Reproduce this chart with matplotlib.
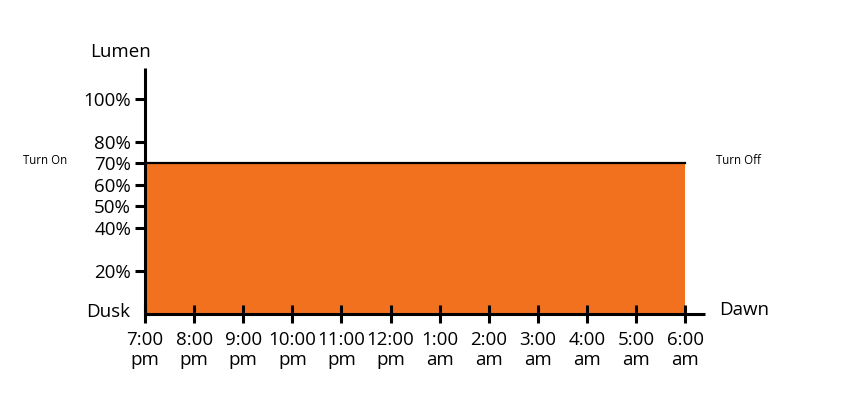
import numpy as np
import matplotlib.pyplot as plt

plt.rcParams['font.family'] = ['Open Sans', 'DejaVu Sans']

# data
hours = ['7:00\npm', '8:00\npm', '9:00\npm', '10:00\npm', '11:00\npm', '12:00\npm',
         '1:00\nam', '2:00\nam', '3:00\nam', '4:00\nam', '5:00\nam', '6:00\nam']
lumen_ticks = [20, 40, 50, 60, 70, 80, 100]
lumen_level = 70

x = np.arange(len(hours))

fig = plt.figure(figsize=(8.48, 3.99), dpi=100)
ax = fig.add_axes([145 / 848, 1 - 314 / 399, (705 - 145) / 848, (314 - 68) / 399])

ax.fill_between([x[0], x[-1]], 0, lumen_level, color='#F2711F', lw=0)
ax.plot([x[0], x[-1]], [lumen_level, lumen_level], color='black', lw=1.6)

ax.set_xlim(0, 11.4)
ax.set_ylim(0, 114.4)

for s in ['top', 'right']:
    ax.spines[s].set_visible(False)
for s in ['left', 'bottom']:
    ax.spines[s].set_linewidth(2.2)
    ax.spines[s].set_capstyle('butt')

ax.set_xticks(x)
ax.set_xticklabels(hours, fontsize=13.5, linespacing=1.1)
ax.set_yticks(lumen_ticks)
ax.set_yticklabels([f'{v}%' for v in lumen_ticks], fontsize=13.5)
ax.tick_params(axis='y', length=7, width=2.2, pad=3)
ax.tick_params(axis='x', direction='inout', length=13, width=2.2, pad=6)

fig.text(120 / 848, 1 - 52 / 399, 'Lumen', fontsize=13.5, ha='center', va='center')
fig.text(108 / 848, 1 - 312 / 399, 'Dusk', fontsize=13.5, ha='center', va='center')
fig.text(744 / 848, 1 - 310 / 399, 'Dawn', fontsize=13.5, ha='center', va='center')
fig.text(45 / 848, 1 - 160 / 399, 'Turn On', fontsize=8.3, ha='center', va='center')
fig.text(738 / 848, 1 - 160 / 399, 'Turn Off', fontsize=8.3, ha='center', va='center')

fig.savefig('out.png', dpi=100)
